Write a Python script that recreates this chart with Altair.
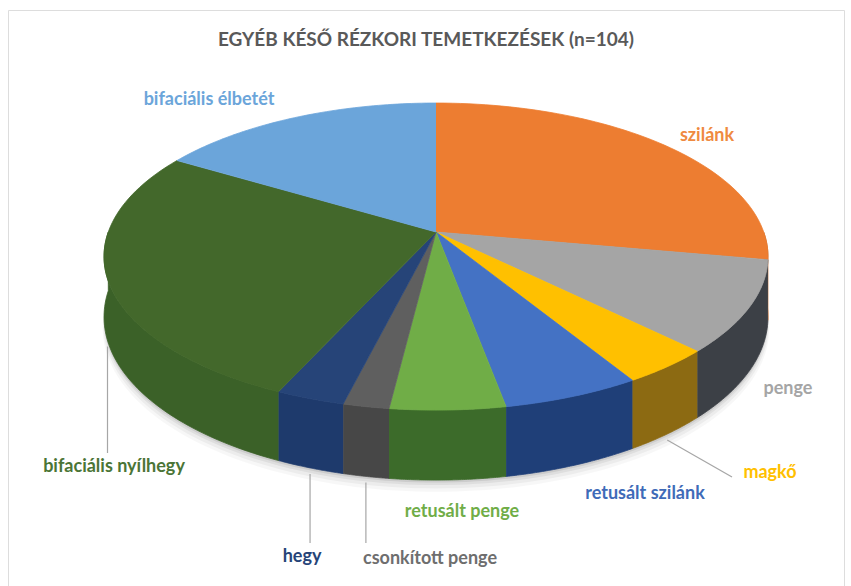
import altair as alt
import pandas as pd

# ---- data (n = 104) ----
categories = ["szilánk", "penge", "magkő", "retusált szilánk", "retusált penge",
              "csonkított penge", "hegy", "bifaciális nyílhegy", "bifaciális élbetét"]
counts = [29, 10, 4, 6, 5, 2, 3, 28, 17]
title_text = "EGYÉB KÉSŐ RÉZKORI TEMETKEZÉSEK (n=104)"

# ---- styles ----
top_colors = ["#ED7D31", "#A5A5A5", "#FFC000", "#4472C4", "#70AD47",
              "#5F5F5F", "#264478", "#43682B", "#6BA5DA"]
side_colors = ["#B85F22", "#3C4046", "#8C6A12", "#1F3F78", "#3C6B2A",
               "#474747", "#1E3A6C", "#3B6128", "#4A7FB3"]
label_colors = ["#EF8A40", "#A5A5A5", "#FFC000", "#3F6BB8", "#70AD47",
                "#6E6E6E", "#264478", "#4B7536", "#6BA5DA"]

# ---- layout (pixels) ----
FRAME_L, FRAME_T, FRAME_R, FRAME_B = 8, 10, 844, 586
CX, CY = 436.0, 232.0        # where the slices meet
A, B = 327.7, 149.6          # projected radii
P = 0.16                     # perspective strength
DEPTH = 58.8 / B             # thickness of the pie
N = 60                       # points per arc
GAP = 6.0 / B

LABEL_POS = {
    "bifaciális élbetét": (209, 100),
    "szilánk": (707, 136),
    "penge": (788, 389),
    "magkő": (770, 473),
    "retusált szilánk": (645, 494),
    "retusált penge": (462, 512),
    "csonkított penge": (430, 559),
    "hegy": (302, 557),
    "bifaciális nyílhegy": (114, 467),
}
LEADERS = {  # end of leader line: (x or None for vertical, y)
    "magkő": (732, 477),
    "csonkított penge": (None, 543),
    "hegy": (None, 543),
    "bifaciális nyílhegy": (None, 453),
}

df = pd.DataFrame({"cat": categories, "value": counts, "idx": list(range(len(categories)))})
df["lx"] = [(LABEL_POS[c][0] - CX) / A for c in categories]
df["ly"] = [(LABEL_POS[c][1] - CY) / B for c in categories]
df["lex"] = [((LEADERS[c][0] - CX) / A) if c in LEADERS and LEADERS[c][0] is not None else None
             for c in categories]
df["ley"] = [((LEADERS[c][1] - CY) / B) if c in LEADERS else None for c in categories]

XDOM = [(FRAME_L - CX) / A, (FRAME_R - CX) / A]
YDOM = [(FRAME_T - CY) / B, (FRAME_B - CY) / B]


def X(f):
    return alt.X(f"{f}:Q", scale=alt.Scale(domain=XDOM, nice=False, zero=False), axis=None)


def Y(f):
    return alt.Y(f"{f}:Q", scale=alt.Scale(domain=YDOM, nice=False, zero=False, reverse=True), axis=None)


base = alt.Chart(df).transform_window(
    cum="sum(value)", frame=[None, 0], sort=[alt.SortField("idx", order="ascending")]
).transform_joinaggregate(
    total="sum(value)"
).transform_calculate(
    t0="2*PI*(datum.cum - datum.value)/datum.total",
    t1="2*PI*datum.cum/datum.total",
)

# soft shadow under the pie
shadows = []
for scale_f, off_px, op in [(1.004, 11, 0.03), (1.002, 8, 0.045), (1.0, 5, 0.06), (1.0, 2.5, 0.08)]:
    shadows.append(
        alt.Chart(alt.sequence(0, 4 * N + 1, as_="k")).transform_calculate(
            t=f"2*PI*datum.k/{4 * N}"
        ).transform_calculate(
            w=f"1 + {P} * cos(datum.t)"
        ).transform_calculate(
            u=f"{scale_f} * sin(datum.t) / datum.w",
            v=f"({scale_f} * -cos(datum.t) + {DEPTH}) / datum.w + {off_px / B}",
        ).mark_line(fill="#000000", fillOpacity=op, strokeOpacity=0).encode(
            x=X("u"), y=Y("v"), order=alt.Order("k:Q")
        )
    )

# front wall of the cylinder
side = base.transform_calculate(
    s0="max(datum.t0, PI/2)", s1="min(datum.t1, 3*PI/2)"
).transform_filter(
    "datum.s1 > datum.s0"
).transform_calculate(
    k=f"sequence(0, {2 * N + 2})"
).transform_flatten(["k"]).transform_calculate(
    j=f"datum.k <= {N} ? datum.k : {2 * N + 1} - datum.k"
).transform_calculate(
    t=f"datum.s0 + (datum.s1 - datum.s0) * datum.j / {N}"
).transform_calculate(
    w=f"1 + {P} * cos(datum.t)"
).transform_calculate(
    u="sin(datum.t) / datum.w",
    v=f"(-cos(datum.t) + (datum.k > {N} ? {DEPTH} : 0)) / datum.w",
).mark_line(strokeWidth=0.8, interpolate="linear").encode(
    x=X("u"), y=Y("v"),
    order=alt.Order("k:Q"),
    detail="cat:N",
    fill=alt.Fill("cat:N", scale=alt.Scale(domain=categories, range=side_colors), legend=None),
    stroke=alt.Stroke("cat:N", scale=alt.Scale(domain=categories, range=side_colors), legend=None),
)

# top faces
top = base.transform_calculate(
    k=f"sequence(0, {N + 2})"
).transform_flatten(["k"]).transform_calculate(
    t=f"datum.t0 + (datum.t1 - datum.t0) * (datum.k - 1) / {N}"
).transform_calculate(
    w=f"1 + {P} * cos(datum.t)"
).transform_calculate(
    u="datum.k == 0 ? 0 : sin(datum.t) / datum.w",
    v="datum.k == 0 ? 0 : -cos(datum.t) / datum.w",
).mark_line(strokeWidth=0.8, interpolate="linear").encode(
    x=X("u"), y=Y("v"),
    order=alt.Order("k:Q"),
    detail="cat:N",
    fill=alt.Fill("cat:N", scale=alt.Scale(domain=categories, range=top_colors), legend=None),
    stroke=alt.Stroke("cat:N", scale=alt.Scale(domain=categories, range=top_colors), legend=None),
)

# leader lines from the rim of a slice to its label
leaders = base.transform_filter(
    "isValid(datum.ley)"
).transform_calculate(
    m="(datum.t0 + datum.t1) / 2"
).transform_calculate(
    w=f"1 + {P} * cos(datum.m)"
).transform_calculate(
    u="sin(datum.m) / datum.w",
    v=f"(-cos(datum.m) + {DEPTH}) / datum.w + {GAP}",
).transform_calculate(
    u2="isValid(datum.lex) ? datum.lex : datum.u"
).mark_rule(color="#A6A6A6", strokeWidth=1.2).encode(
    x=X("u"), y=Y("v"), x2="u2:Q", y2="ley:Q"
)

labels = alt.Chart(df).mark_text(
    font="Lato", fontSize=18, fontWeight="bold", align="center", baseline="middle"
).encode(
    x=X("lx"), y=Y("ly"), text="cat:N",
    color=alt.Color("cat:N", scale=alt.Scale(domain=categories, range=label_colors), legend=None),
)

chart = alt.layer(*shadows, side, top, leaders, labels).resolve_scale(
    fill="independent", stroke="independent", color="independent"
).properties(
    width=FRAME_R - FRAME_L,
    height=FRAME_B - FRAME_T,
    padding={"left": FRAME_L, "top": FRAME_T, "right": 851 - FRAME_R, "bottom": 0},
    autosize="none",
    title=alt.TitleParams(
        text=title_text, font="Lato", fontSize=19, fontWeight="bold", color="#595959",
        anchor="middle", offset=-59, baseline="bottom",
    ),
).configure_view(
    stroke="#595959", strokeWidth=2
).configure(background="white")

chart.save("out.html", embed_options={"renderer": "svg", "actions": False})
